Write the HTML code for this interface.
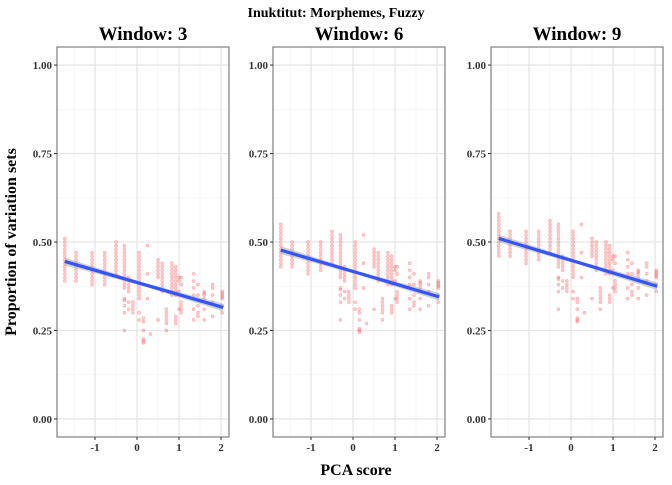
<!DOCTYPE html>
<html><head><meta charset="utf-8"><style>
body{margin:0;background:#fff;}
svg text{font-family:"Liberation Serif",serif;font-weight:bold;}
</style></head><body>
<svg id="chart" width="672" height="480" xmlns="http://www.w3.org/2000/svg">
<text x="336" y="17" text-anchor="middle" font-size="14">Inuktitut: Morphemes, Fuzzy</text>
<text x="356" y="475" text-anchor="middle" font-size="16">PCA score</text>
<text transform="translate(16,242) rotate(-90)" text-anchor="middle" font-size="16">Proportion of variation sets</text>
</svg>
<script>
const panelTitles = ["Window: 3","Window: 6","Window: 9"];
const xTicks = [-1,0,1,2];
const yTicks = [0,0.25,0.5,0.75,1];
const yTickLabels = ["0.00","0.25","0.50","0.75","1.00"];
const colX = [-1.72,-1.45,-1.07,-0.77,-0.5,-0.3,-0.2,-0.1,0.05,0.15,0.25,0.32,0.5,0.6,0.7,0.83,0.92,1.0,1.05,1.35,1.45,1.6,1.8,2.03];
const w3Values = [
[.51,.50,.49,.48,.47,.46,.45,.44,.43,.42,.41,.40,.39],
[.47,.46,.45,.44,.43,.42,.41,.40,.39],
[.47,.46,.45,.44,.43,.42,.41,.40,.39,.38],
[.47,.46,.45,.44,.43,.42,.41,.40,.39,.38],
[.50,.49,.48,.47,.46,.45,.44,.43,.42,.41],
[.49,.48,.47,.46,.45,.44,.43,.42,.41,.40,.39,.38,.37,.34,.335,.32,.30,.25],
[.40,.39,.38,.37,.36,.33,.31],
[.33,.32,.31,.30],
[.47,.46,.45,.44,.43,.42,.41,.40,.39,.38,.37,.36,.35,.34,.30,.28],
[.285,.275,.25,.225,.22,.215],
[.49,.41,.34],
[.24],
[.45,.44,.43,.42,.41,.40,.28],
[.44,.43,.42,.41,.40,.39,.38,.37,.36],
[.31,.30,.29,.28,.27,.25],
[.44,.43,.42,.41,.40,.39,.38,.37,.36,.35],
[.43,.42,.41,.40,.39,.38,.37,.36,.35,.29,.28,.27],
[.40,.39,.36,.31],
[.40,.38,.33,.32,.31,.30],
[.41,.39,.37,.35,.31,.28],
[.38,.35,.32,.30,.29],
[.36,.355,.35,.34,.31,.28],
[.38,.37,.35,.33,.29],
[.36,.355,.35,.345,.34,.32,.30]];
const w6Values = [
[.55,.54,.53,.52,.51,.50,.49,.48,.47,.46,.45,.44,.43],
[.50,.49,.48,.47,.46,.45,.44,.43],
[.50,.49,.48,.47,.46,.45,.44,.43,.42,.41],
[.50,.49,.48,.47,.46,.45,.44,.43,.42],
[.53,.52,.51,.50,.49,.48,.47,.46,.45,.44],
[.52,.51,.50,.49,.48,.47,.46,.45,.44,.43,.42,.41,.40,.37,.365,.35,.33,.28],
[.43,.42,.41,.40,.39,.36,.34],
[.36,.35,.34,.33],
[.50,.49,.48,.47,.46,.45,.44,.43,.42,.41,.40,.39,.38,.37,.33,.31],
[.31,.30,.28,.255,.25,.245],
[.52,.44,.37],
[.27],
[.48,.47,.46,.45,.44,.43,.31],
[.47,.46,.45,.44,.43,.42,.41,.40,.39],
[.34,.33,.32,.31,.30,.28],
[.47,.46,.45,.44,.43,.42,.41,.40,.39,.38],
[.46,.45,.44,.43,.42,.41,.40,.39,.38,.32,.31,.30],
[.43,.42,.39,.34],
[.43,.41,.36,.35,.34,.33],
[.44,.42,.40,.38,.34,.31],
[.41,.38,.35,.33,.32],
[.39,.385,.38,.37,.34,.31],
[.41,.40,.38,.36,.32],
[.39,.385,.38,.375,.37,.35,.33]];
const w9Values = [
[.58,.57,.56,.55,.54,.53,.52,.51,.50,.49,.48,.47,.46],
[.53,.52,.51,.50,.49,.48,.47,.46],
[.53,.52,.51,.50,.49,.48,.47,.46,.45,.44],
[.53,.52,.51,.50,.49,.48,.47,.46,.45],
[.56,.55,.54,.53,.52,.51,.50,.49,.48,.47],
[.55,.54,.53,.52,.51,.50,.49,.48,.47,.46,.45,.44,.43,.40,.395,.38,.36,.31],
[.46,.45,.44,.43,.42,.39,.37],
[.39,.38,.37,.36],
[.53,.52,.51,.50,.49,.48,.47,.46,.45,.44,.43,.42,.41,.40,.36,.34],
[.34,.33,.31,.285,.28,.275],
[.55,.47,.40],
[.30],
[.51,.50,.49,.48,.47,.46,.34],
[.50,.49,.48,.47,.46,.45,.44,.43,.42],
[.37,.36,.35,.34,.33,.31],
[.50,.49,.48,.47,.46,.45,.44,.43,.42,.41],
[.49,.48,.47,.46,.45,.44,.43,.42,.41,.35,.34,.33],
[.46,.45,.42,.37],
[.46,.44,.39,.38,.37,.36],
[.47,.45,.43,.41,.37,.34],
[.44,.41,.38,.36,.35],
[.42,.415,.41,.40,.37,.34],
[.44,.43,.41,.39,.35],
[.42,.415,.41,.405,.40,.38,.36]];
const panelValues = [w3Values, w6Values, w9Values];
const fitStart = [0.445, 0.477, 0.510];
const fitEnd = [0.315, 0.345, 0.375];
const fitX = [-1.72, 2.05];

const NS = "http://www.w3.org/2000/svg";
const svg = document.getElementById("chart");
const panelLefts = [57, 273, 491];
const PW = 172, PT = 47, PB = 437;
const xMin = -1.905, xMax = 2.19, yMin = -0.051, yMax = 1.051;
function mk(tag, attrs, parent){const e=document.createElementNS(NS,tag);for(const k in attrs)e.setAttribute(k,attrs[k]);(parent||svg).appendChild(e);return e;}

panelTitles.forEach((title, p) => {
  const L = panelLefts[p];
  const sx = x => L + (x - xMin) / (xMax - xMin) * PW;
  const sy = v => PB - (v - yMin) / (yMax - yMin) * (PB - PT);
  const g = mk("g", {});
  
  
  [-1.5,-0.5,0.5,1.5].forEach(x=>mk("line",{x1:sx(x),x2:sx(x),y1:PT,y2:PB,stroke:"#f3f3f3","stroke-width":0.8},g));
  [0.125,0.375,0.625,0.875].forEach(v=>mk("line",{x1:L,x2:L+PW,y1:sy(v),y2:sy(v),stroke:"#f3f3f3","stroke-width":0.8},g));
  xTicks.forEach(x=>mk("line",{x1:sx(x),x2:sx(x),y1:PT,y2:PB,stroke:"#e6e6e6","stroke-width":1.3},g));
  yTicks.forEach(v=>mk("line",{x1:L,x2:L+PW,y1:sy(v),y2:sy(v),stroke:"#e6e6e6","stroke-width":1.3},g));
  colX.forEach((x, i) => {
    panelValues[p][i].forEach(v => {
      const c = mk("circle",{cx:sx(x),cy:sy(v),r:1.6,fill:"#ff6a6a","fill-opacity":0.35,stroke:"#ff4040","stroke-opacity":0.35,"stroke-width":0.5},g);
      
      
    });
  });
  const x0=fitX[0], x1=fitX[1], y0=fitStart[p], y1=fitEnd[p];
  const xm=(x0+x1)/2, ym=(y0+y1)/2;
  const band = mk("polygon",{points:[[sx(x0),sy(y0+0.011)],[sx(xm),sy(ym+0.005)],[sx(x1),sy(y1+0.011)],[sx(x1),sy(y1-0.011)],[sx(xm),sy(ym-0.005)],[sx(x0),sy(y0-0.011)]].map(a=>a.join(",")).join(" "),fill:"#999","fill-opacity":0.45},g);
  
  
  const ln = mk("line",{x1:sx(x0),y1:sy(y0),x2:sx(x1),y2:sy(y1),stroke:"#3355ff","stroke-width":3.2},g);
  
  
  mk("rect",{x:L,y:PT,width:PW,height:PB-PT,fill:"none",stroke:"#666","stroke-width":1},g);
  xTicks.forEach(x=>{
    mk("line",{x1:sx(x),x2:sx(x),y1:PB,y2:PB+3,stroke:"#333"},g);
    const t=mk("text",{x:sx(x),y:PB+14,"text-anchor":"middle","font-size":11,fill:"#333"},g);
    t.textContent = x;
    
    
  });
  yTicks.forEach((v,i)=>{
    mk("line",{x1:L-3,x2:L,y1:sy(v),y2:sy(v),stroke:"#333"},g);
    const t=mk("text",{x:L-5,y:sy(v)+4,"text-anchor":"end","font-size":11,fill:"#333"},g);
    t.textContent = yTickLabels[i];
    
    
  });
  const st = mk("text",{x:L+PW/2,y:40,"text-anchor":"middle","font-size":19},g);
  st.textContent = title;
  
  
});
</script>
</body></html>
